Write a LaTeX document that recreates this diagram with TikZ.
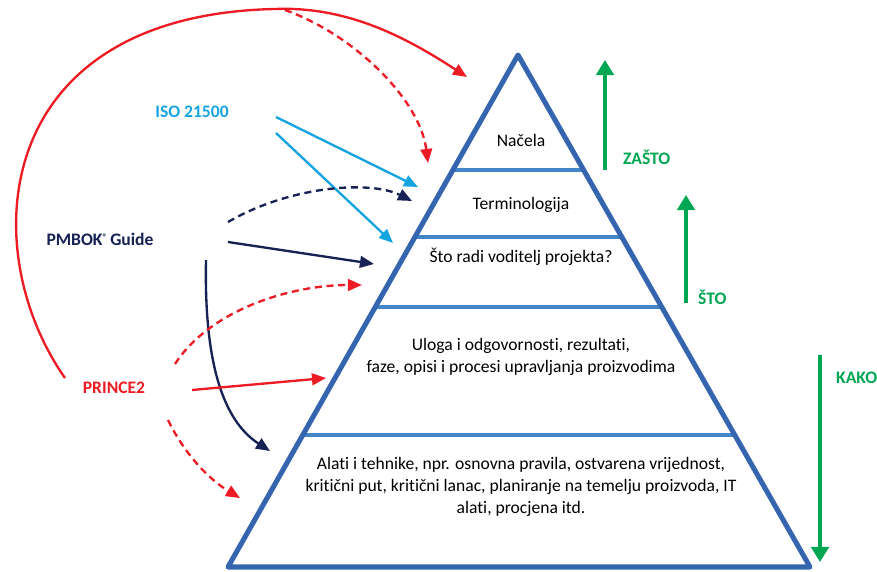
\documentclass[tikz,border=0pt]{standalone}
\usepackage{fontspec}
\setmainfont{Carlito}[Ligatures=NoCommon]
\usetikzlibrary{arrows.meta,positioning,calc}
\definecolor{pyrblue}{RGB}{54,101,176}
\definecolor{bandblue}{RGB}{66,133,200}
\definecolor{prred}{RGB}{237,28,36}
\definecolor{isocyan}{RGB}{20,165,225}
\definecolor{pmnavy}{RGB}{22,33,84}
\definecolor{dirgreen}{RGB}{0,166,81}

\begin{document}
\begin{tikzpicture}[x=0.03cm, y=-0.03cm, line join=round,
  font=\fontsize{15}{18.7}\selectfont,
  src/.style={font=\fontsize{15}{18}\selectfont\bfseries},
  link/.style={line width=2pt, -{Triangle[length=12pt,width=10pt]}},
  dlink/.style={link, dash pattern=on 6pt off 4pt},
  dir/.style={draw=dirgreen, line width=4pt, -{Triangle[length=13pt,width=15pt]}},
  dirlbl/.style={src, text=dirgreen, anchor=west}]
\useasboundingbox (0,0) rectangle (877,572);

% pyramid
\coordinate (apex) at (518,55);
\coordinate (bl)   at (228,567);
\coordinate (br)   at (810,567);
\foreach \t/\n in {0.2246/1, 0.3555/2, 0.4922/3, 0.7422/4}
  \draw[bandblue, line width=3.4pt] ($(apex)!\t!(bl)$) coordinate (L\n) -- ($(apex)!\t!(br)$) coordinate (R\n);
\draw[pyrblue, line width=4.3pt] (apex)--(br)--(bl)--cycle;

% layer texts
\node (nacela) at (521,140) {Načela};
\node (termin) at (521,205) {Terminologija};
\node (voditelj) at (521,257) {Što radi voditelj projekta?};
\node[align=center] (uloga) at (521,357) {Uloga i odgovornosti, rezultati,\\faze, opisi i procesi upravljanja proizvodima};
\node[align=center] (alati) at (521,487) {Alati i tehnike, npr. osnovna pravila, ostvarena vrijednost,\\kritični put, kritični lanac, planiranje na temelju proizvoda, IT\\alati, procjena itd.};

% green directions
\coordinate (za-b) at (605,170); \coordinate (za-t) at (605,60);
\coordinate (st-b) at (686,303); \coordinate (st-t) at (686,195);
\coordinate (ka-t) at (820,355); \coordinate (ka-b) at (820,562);
\draw[dir] (za-b) -- (za-t);
\draw[dir] (st-b) -- (st-t);
\draw[dir] (ka-t) -- (ka-b);
\node[dirlbl] (zasto) at (619,157) {ZAŠTO};
\node[dirlbl] (sto)   at (694,297) {ŠTO};
\node[dirlbl] (kako)  at (832,378) {KAKO};

% sources
\node[src, text=isocyan] (iso)   at (192,112) {ISO 21500};
\node[src, text=pmnavy]  (pmbok) at (100,239) {PMBOK\raisebox{0.55ex}{\fontsize{8}{8}\selectfont ®}\,Guide};
\node[src, text=prred]   (prince) at (114,388) {PRINCE2};

% ISO 21500
\coordinate (iso-a) at (276,117); \coordinate (iso-a') at (418,187);
\coordinate (iso-b) at (276,133); \coordinate (iso-b') at (393,243);
\draw[link, isocyan] (iso-a) -- (iso-a');
\draw[link, isocyan] (iso-b) -- (iso-b');

% PMBOK Guide
\coordinate (pm-a) at (228,222); \coordinate (pm-a') at (412,201);
\coordinate (pm-b) at (228,242); \coordinate (pm-b') at (374,264);
\coordinate (pm-c) at (206,260); \coordinate (pm-c') at (270,451);
\draw[dlink, pmnavy] (pm-a) .. controls (290,186) and (370,180) .. (pm-a');
\draw[link, pmnavy] (pm-b) -- (pm-b');
\draw[link, pmnavy] (pm-c) .. controls (204,360) and (222,420) .. (pm-c');

% PRINCE2
\coordinate (pr-top) at (65,378);  \coordinate (pr-top') at (467,77);
\coordinate (pr-d0) at (285,10);   \coordinate (pr-d0') at (428,163);
\coordinate (pr-a) at (175,364);   \coordinate (pr-a') at (362,285);
\coordinate (pr-b) at (192,390);   \coordinate (pr-b') at (326,378);
\coordinate (pr-c) at (168,420);   \coordinate (pr-c') at (240,498);
\draw[link, prred] (pr-top) .. controls (-25,250) and (-10,15) .. (275,9)
  .. controls (350,6) and (410,40) .. (pr-top');
\draw[dlink, prred] (pr-d0) .. controls (355,35) and (420,100) .. (pr-d0');
\draw[dlink, prred] (pr-a) .. controls (210,310) and (290,285) .. (pr-a');
\draw[link, prred] (pr-b) -- (pr-b');
\draw[dlink, prred] (pr-c) .. controls (185,455) and (210,480) .. (pr-c');
\end{tikzpicture}
\end{document}
